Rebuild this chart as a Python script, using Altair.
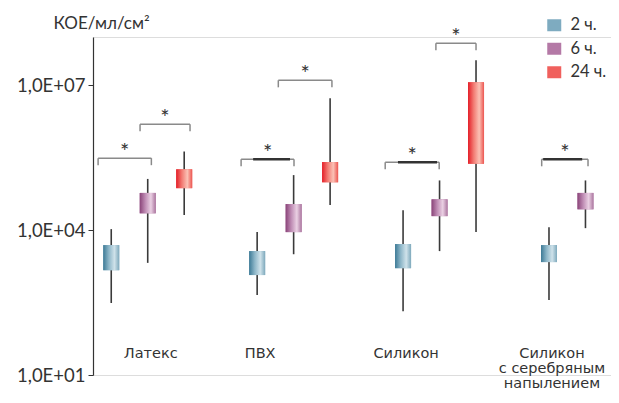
import altair as alt
import pandas as pd

categories = ["Латекс", "ПВХ", "Силикон", "Силикон\nс серебряным\nнапылением"]
series = ["2 ч.", "6 ч.", "24 ч."]

# whisker low, box bottom, box top, whisker high  (per category)
lo_2h = [310, 452, 210, 356]
q1_2h = [1480, 1175, 1630, 2180]
q3_2h = [4900, 3680, 5150, 4900]
hi_2h = [10500, 9100, 25900, 11500]

lo_6h = [2100, 3170, 3680, 11000]
q1_6h = [22300, 9100, 19500, 27000]
q3_6h = [59000, 34700, 43500, 59000]
hi_6h = [115000, 138000, 107000, 107000]

lo_24h = [20500, 33000, 9100, 310]
q1_24h = [74000, 98000, 236000, 310]
q3_24h = [182000, 257000, 11500000, 1720]
hi_24h = [427000, 5400000, 33000000, 1720]

# significance brackets: left / right (in x units), level (КОЕ)
br_left = [-0.36, 0.79, 3.56, 4.58, 7.51, 8.90, 11.80]
br_right = [1.10, 2.16, 5.01, 6.05, 8.99, 10.00, 13.07]
br_level = [3.1e5, 1.56e6, 2.94e5, 1.27e7, 2.55e5, 7.4e7, 2.94e5]
# darker overprinted part of three brackets
dk_left = [3.89, 7.86, 11.84]
dk_right = [4.90, 8.93, 12.91]
dk_level = [2.94e5, 2.55e5, 2.94e5]

# which box each category label sits under
label_anchor = [1, 0, 0, 0]

y_ticks = [10, 1e4, 1e7]

stats = {
    "2 ч.": (lo_2h, q1_2h, q3_2h, hi_2h),
    "6 ч.": (lo_6h, q1_6h, q3_6h, hi_6h),
    "24 ч.": (lo_24h, q1_24h, q3_24h, hi_24h),
}
rows = []
for si, s in enumerate(series):
    lo, q1, q3, hi = stats[s]
    for gi, c in enumerate(categories):
        rows.append(dict(cat=c, series=s, gi=gi, si=si, lo=lo[gi], q1=q1[gi], q3=q3[gi], hi=hi[gi]))
df = pd.DataFrame(rows)

br_df = pd.DataFrame({"l": br_left, "r": br_right, "lev": br_level})
dk_df = pd.DataFrame({"l": dk_left, "r": dk_right, "lev": dk_level})
cat_df = pd.DataFrame({"name": categories, "gi": list(range(len(categories))), "asi": label_anchor})

xscale = alt.Scale(domain=[-0.5, 13.7], nice=False, zero=False, padding=0)
yscale = alt.Scale(type="log", domain=[10, 1e8], nice=False, padding=0)

yaxis = alt.Axis(
    values=y_ticks,
    labelExpr="'1,0E+' + (round(log(datum.value)/LN10) < 10 ? '0' : '') + round(log(datum.value)/LN10)",
    title="КОЕ/мл/см²", titleAngle=0, titleAlign="left", titleBaseline="middle",
    titleX=-40, titleY=-14, titleFontSize=17, titleFontWeight="normal", titleColor="#333333",
    labelFontSize=18.5, labelColor="#333333", tickColor="#333333", tickSize=5,
    domainColor="#333333", domainWidth=1.2, grid=False, labelPadding=3,
)

base = alt.Chart(df).transform_calculate(pos="4*datum.gi + datum.si")

whisk = base.mark_rule(color="#3a3a3a", strokeWidth=1.6, clip=True).encode(
    x=alt.X("pos:Q", scale=xscale, axis=None),
    y=alt.Y("lo:Q", scale=yscale, axis=yaxis),
    y2="hi:Q",
)

solid = base.mark_bar(width=16, clip=True).encode(
    x=alt.X("pos:Q", scale=xscale, axis=None),
    y=alt.Y("q1:Q", scale=yscale),
    y2="q3:Q",
    color=alt.Color(
        "series:N",
        scale=alt.Scale(domain=series, range=["#7eabc0", "#b479a6", "#f0605d"]),
        legend=alt.Legend(
            title=None, orient="none", legendX=453, legendY=-20,
            symbolType="M-1,-0.857H1V0.857H-1Z", symbolSize=196, symbolStrokeWidth=0,
            labelFontSize=16.5, labelColor="#333333", labelOffset=8, rowPadding=6.5, padding=0,
        ),
    ),
)

grad_stops = {
    "2 ч.": ["#3d7a96", "#8db6c8", "#cfe2ea", "#7ea9bc"],
    "6 ч.": ["#8a4479", "#bf8cb4", "#ead0e3", "#ab769f"],
    "24 ч.": ["#e41e28", "#f27a72", "#fbc1b5", "#ec5550"],
}
grad_layers = []
for s in series:
    c = grad_stops[s]
    g = alt.Gradient(
        gradient="linear", x1=0, x2=1, y1=0, y2=0,
        stops=[alt.GradientStop(offset=0, color=c[0]), alt.GradientStop(offset=0.35, color=c[1]),
               alt.GradientStop(offset=0.7, color=c[2]), alt.GradientStop(offset=1, color=c[3])],
    )
    grad_layers.append(
        base.transform_filter(alt.datum.series == s).mark_bar(width=16, clip=True, color=g).encode(
            x=alt.X("pos:Q", scale=xscale, axis=None),
            y=alt.Y("q1:Q", scale=yscale),
            y2="q3:Q",
        )
    )

bbase = alt.Chart(br_df).transform_calculate(mid="(datum.l + datum.r)/2", tb="datum.lev/1.4")
br_h = bbase.mark_rule(color="#8a8a8a", strokeWidth=1.5).encode(
    x=alt.X("l:Q", scale=xscale), x2="r:Q", y=alt.Y("lev:Q", scale=yscale))
br_lt = bbase.mark_rule(color="#8a8a8a", strokeWidth=1.5).encode(
    x=alt.X("l:Q", scale=xscale), y=alt.Y("lev:Q", scale=yscale), y2="tb:Q")
br_rt = bbase.mark_rule(color="#8a8a8a", strokeWidth=1.5).encode(
    x=alt.X("r:Q", scale=xscale), y=alt.Y("lev:Q", scale=yscale), y2="tb:Q")
br_dark = alt.Chart(dk_df).mark_rule(color="#333333", strokeWidth=2.4).encode(
    x=alt.X("l:Q", scale=xscale), x2="r:Q", y=alt.Y("lev:Q", scale=yscale))
stars = bbase.mark_text(text="*", fontSize=22, color="#333333", baseline="middle", dy=-6).encode(
    x=alt.X("mid:Q", scale=xscale), y=alt.Y("lev:Q", scale=yscale))

cat_labels = alt.Chart(cat_df).transform_calculate(pos="4*datum.gi + datum.asi").mark_text(
    font="DejaVu Sans", fontSize=14.5, color="#333333", lineBreak="\n", lineHeight=15,
    baseline="top", align="center", dx=3
).encode(x=alt.X("pos:Q", scale=xscale), y=alt.value(310), text="name:N")

chart = alt.layer(whisk, solid, *grad_layers, br_h, br_lt, br_rt, br_dark, stars, cat_labels).properties(
    width=518, height=338,
    autosize=alt.AutoSizeParams(type="none"),
    padding={"left": 85, "top": 29, "right": 0, "bottom": 16},
).configure_view(stroke=None).configure(font="Lato")

chart.save("out.html", embed_options={"renderer": "svg", "actions": False})
